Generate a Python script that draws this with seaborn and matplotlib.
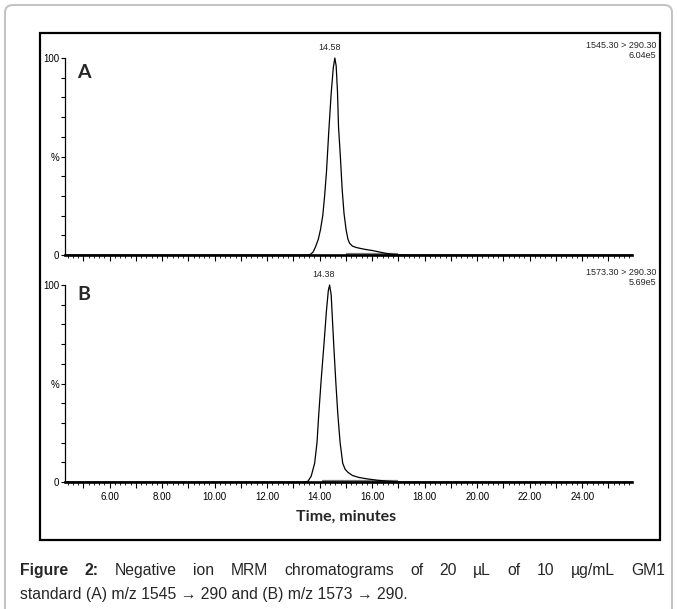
import pandas as pd
import numpy as np
import seaborn as sns
import matplotlib.pyplot as plt
from matplotlib.patches import Rectangle, FancyBboxPatch
from matplotlib.ticker import MultipleLocator

# chromatogram A: m/z 1545.30 > 290.30
time_a = [4.3, 13.5, 13.65, 13.75, 13.84, 13.95, 14.03, 14.12, 14.19, 14.26, 14.35, 14.44, 14.52,
          14.58, 14.63, 14.68, 14.72, 14.79, 14.86, 14.93, 15.01, 15.08, 15.14, 15.25, 15.4, 15.6,
          15.8, 16.0, 16.25, 16.5, 16.75, 17.0, 17.3, 25.9]
int_a = [0, 0, 0.3, 1.5, 4, 8, 12.7, 20, 30, 42, 63, 82, 95,
         100, 96, 83, 65, 50, 33, 21, 12.7, 8, 6, 4.5, 3.8, 3.2,
         2.7, 2.3, 1.6, 0.9, 0.4, 0.1, 0, 0]

# chromatogram B: m/z 1573.30 > 290.30
time_b = [4.3, 13.4, 13.55, 13.68, 13.81, 13.9, 13.97, 14.06, 14.16, 14.26, 14.33, 14.38, 14.44,
          14.54, 14.62, 14.69, 14.78, 14.88, 14.97, 15.07, 15.25, 15.5, 15.8, 16.2, 16.6, 17.0,
          17.3, 25.9]
int_b = [0, 0, 0.3, 3, 9.5, 20, 35, 52, 69, 87, 97, 100, 95,
         69, 50, 35, 20, 9.5, 6.5, 5, 3.3, 2.3, 1.6, 0.9, 0.4, 0.1,
         0, 0]

peak_rt = [14.58, 14.38]
panel_ids = ["A", "B"]
transitions = ["1545.30 > 290.30", "1573.30 > 290.30"]
max_counts = ["6.04e5", "5.69e5"]
integration = [(15.0, 17.0), (14.1, 17.0)]  # grey baseline segments

x_labels = [6, 8, 10, 12, 14, 16, 18, 20, 22, 24]
caption1 = ["Figure", "2:", "Negative", "ion", "MRM", "chromatograms", "of", "20", "µL",
            "of", "10", "µg/mL", "GM1"]
caption2 = "standard (A) m/z 1545 \u2192 290 and (B) m/z 1573 \u2192 290."

sns.set_theme(style="white")
plt.rcParams['font.family'] = ['Liberation Sans', 'DejaVu Sans']

W, H = 677, 609
fig = plt.figure(figsize=(W / 100, H / 100), dpi=100)


def fx(x):
    return x / W


def fy(y):
    return 1 - y / H


# outer grey frame and inner black box
fig.patches.append(FancyBboxPatch((fx(5), -0.05), fx(667), 1.05 - 5 / H,
                                  boxstyle="round,pad=0,rounding_size=0.012",
                                  transform=fig.transFigure, fill=False,
                                  edgecolor="#c4c4c4", lw=1.5))
fig.patches.append(Rectangle((fx(40), fy(540)), fx(620), 507 / H, transform=fig.transFigure,
                             fill=False, edgecolor="black", lw=1.6))

panels = [(time_a, int_a, 255, 41), (time_b, int_b, 482, 268)]
for i, (t, v, y0, ytxt) in enumerate(panels):
    ax = fig.add_axes([fx(65), fy(y0), fx(567), 197 / H])
    ax.patch.set_alpha(0)
    df = pd.DataFrame({"time": t, "intensity": v})
    sns.lineplot(data=df, x="time", y="intensity", ax=ax, color="black", lw=0.9,
                 estimator=None, clip_on=False)
    a, b = integration[i]
    ax.plot([a, b], [0.6, 0.6], color="#7a7a7a", lw=1.6, solid_capstyle="butt", zorder=1)
    ax.set_xlim(4.3, 25.9)
    ax.set_ylim(0, 100)
    ax.set_xlabel("")
    ax.set_ylabel("")
    for s in ["top", "right"]:
        ax.spines[s].set_visible(False)
    ax.spines["left"].set_linewidth(0.9)
    ax.spines["bottom"].set_linewidth(1.9)
    ax.spines["left"].set_color("black")
    ax.spines["bottom"].set_color("black")

    ax.set_yticks(range(0, 101, 10))
    ylabs = [""] * 11
    ylabs[0], ylabs[5], ylabs[10] = "0", "%", "100"
    ax.set_yticklabels(ylabs)
    ax.xaxis.set_major_locator(MultipleLocator(1))
    ax.xaxis.set_minor_locator(MultipleLocator(0.2))
    ticks = ax.get_xticks()
    ax.set_xticks(ticks)
    if i == 1:
        ax.set_xticklabels(["%.2f" % k if int(round(k)) in x_labels else "" for k in ticks])
    else:
        ax.set_xticklabels([])
    ax.set_xlim(4.3, 25.9)
    ax.tick_params(axis="y", left=True, direction="out", length=3, width=0.8, pad=1,
                   labelsize=7, colors="black")
    ax.tick_params(axis="x", which="major", bottom=True, direction="out", length=4.5,
                   width=0.8, pad=3, labelsize=7, colors="black")
    ax.tick_params(axis="x", which="minor", bottom=True, direction="out", length=2.2,
                   width=0.7)

    ax.annotate("%.2f" % peak_rt[i], (peak_rt[i], 100), xytext=(-4, 4),
                textcoords="offset points", ha="center", va="bottom", fontsize=6.5)
    fig.text(fx(656), fy(ytxt), transitions[i] + "\n" + max_counts[i], ha="right", va="top",
             fontsize=6.5, linespacing=1.15, multialignment="right")
    fig.text(fx(77), fy(72 + i * 223), panel_ids[i], ha="left", va="center",
             fontsize=14, fontweight="bold", family="Lato")

fig.text(fx(346), fy(517), "Time, minutes", ha="center", va="center", fontsize=11.5,
         fontweight="bold", family="Lato")

# justified first caption line
renderer = fig.canvas.get_renderer()
words = []
for k, w in enumerate(caption1):
    words.append(fig.text(0, fy(575), w, ha="left", va="baseline", fontsize=11.3,
                          fontweight="bold" if k < 2 else "normal"))
widths = [t.get_window_extent(renderer).width for t in words]
gap = (645 - sum(widths)) / (len(words) - 1)
xpos = 20
for t, wd in zip(words, widths):
    t.set_x(fx(xpos))
    xpos += wd + gap
fig.text(fx(20), fy(599), caption2, ha="left", va="baseline", fontsize=11.3)

fig.savefig("out.png", dpi=100)
